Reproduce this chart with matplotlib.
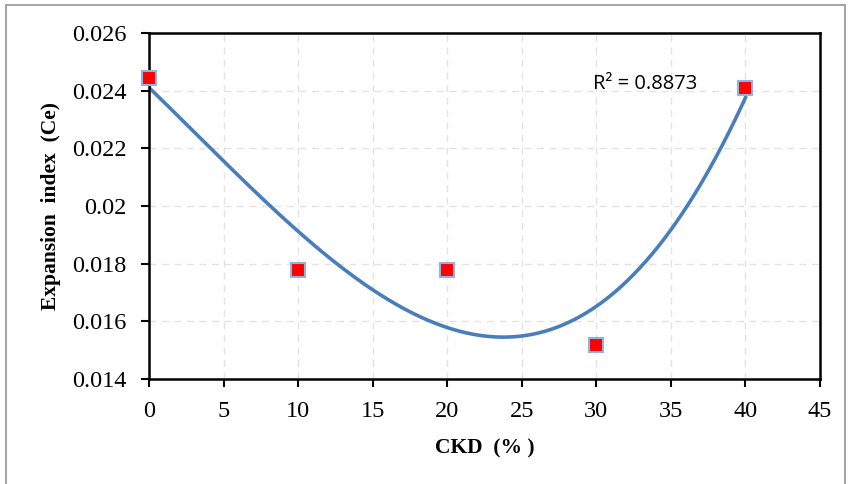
import numpy as np
import matplotlib.pyplot as plt
from matplotlib.patches import Rectangle

# CKD content (%) and measured expansion index
ckd = [0, 10, 20, 30, 40]
ce = [0.02444, 0.01779, 0.01778, 0.01519, 0.02409]
r2_text = 'R² = 0.8873'

xticks = [0, 5, 10, 15, 20, 25, 30, 35, 40, 45]
yticks = [0.014, 0.016, 0.018, 0.02, 0.022, 0.024, 0.026]
ytick_labels = ['0.014', '0.016', '0.018', '0.02', '0.022', '0.024', '0.026']

# 3rd order polynomial trendline
coef = np.polyfit(ckd, ce, 3)
xs = np.linspace(min(ckd), max(ckd), 300)
ys = np.polyval(coef, xs)

serif = ['Liberation Serif', 'DejaVu Serif']

fig = plt.figure(figsize=(8.51, 4.84), dpi=100)
fig.patches.append(Rectangle((6 / 851, -0.01), 839 / 851, 1 - 5 / 484 + 0.01,
                             transform=fig.transFigure, fill=False,
                             edgecolor='#a6a6a6', linewidth=1.5))
ax = fig.add_axes([149 / 851, 1 - 379 / 484, 671 / 851, 346 / 484])

ax.plot(xs, ys, color='#4a7ebb', linewidth=2.6, zorder=2)
ax.plot(ckd, ce, linestyle='none', marker='s', markersize=9.5,
        markerfacecolor='#ff0000', markeredgecolor='#8eb4e3',
        markeredgewidth=1.5, zorder=3, clip_on=False)

ax.set_xlim(0, 45)
ax.set_ylim(0.014, 0.026)
ax.set_xticks(xticks)
ax.set_yticks(yticks)
ax.set_yticklabels(ytick_labels)
ax.grid(True, color='#e3e3e3', linestyle=(0, (5, 4)), linewidth=1)
ax.set_axisbelow(True)

for s in ax.spines.values():
    s.set_color('black')
    s.set_linewidth(1.8)
ax.tick_params(direction='out', length=6, width=1.5, colors='black')
ax.tick_params(axis='y', pad=10)
ax.tick_params(axis='x', pad=10)
for lab in ax.get_xticklabels() + ax.get_yticklabels():
    lab.set_family(serif)
    lab.set_fontsize(17.5)

ax.set_xlabel('CKD  (% )', family=serif, fontsize=15.5, fontweight='bold', labelpad=12)
ax.set_ylabel('Expansion  index  (Ce)', family=serif, fontsize=15.5, fontweight='bold', labelpad=8)

ax.text(29.8, 0.02423, r2_text, family=['Open Sans', 'DejaVu Sans'],
        fontsize=14.5, ha='left', va='center')

fig.savefig('out.png', dpi=100)
